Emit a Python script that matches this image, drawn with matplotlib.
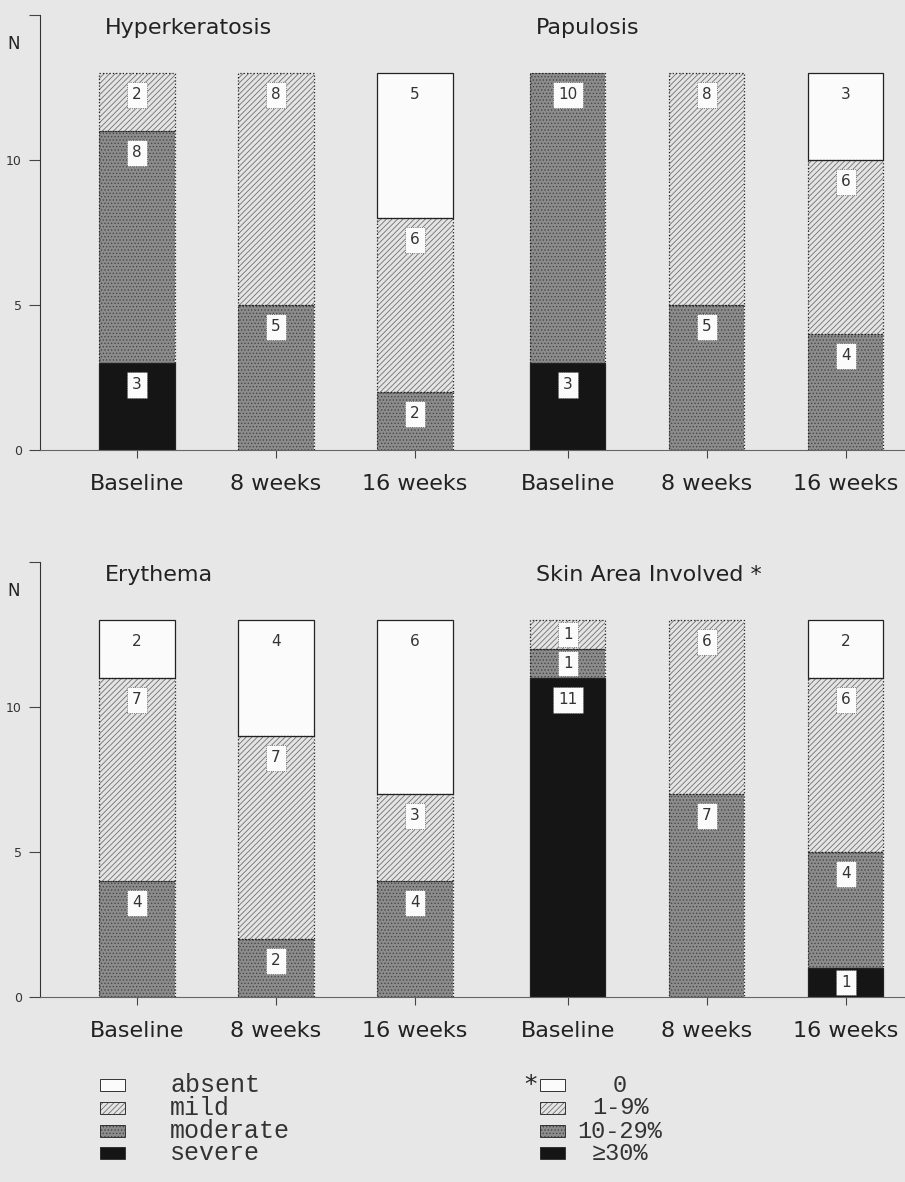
import matplotlib.pyplot as plt
from matplotlib.patches import Rectangle

timepoints = ["Baseline", "8 weeks", "16 weeks"]
levels = ["severe", "moderate", "mild", "absent"]  # stacked bottom-up

# counts per time point, in the order of `levels`
hyperkeratosis = [[3, 8, 2, 0], [0, 5, 8, 0], [0, 2, 6, 5]]
papulosis = [[3, 10, 0, 0], [0, 5, 8, 0], [0, 4, 6, 3]]
erythema = [[0, 4, 7, 2], [0, 2, 7, 4], [0, 4, 3, 6]]
skin_area = [[11, 1, 1, 0], [0, 7, 6, 0], [1, 4, 6, 2]]

legend_levels = ["absent", "mild", "moderate", "severe"]
area_labels = ["0", "1-9%", "10-29%", "≥30%"]

styles = {
    "severe": dict(fc="#151515", hatch=None, hc="#151515"),
    "moderate": dict(fc="#8c8c8c", hatch=".....", hc="#474747"),
    "mild": dict(fc="#e4e4e4", hatch="//////", hc="#707070"),
    "absent": dict(fc="#fbfbfb", hatch=None, hc="#fbfbfb"),
}

BG = "#e7e7e7"
SANS = "DejaVu Sans"
plt.rcParams["hatch.linewidth"] = 0.6

fig = plt.figure(figsize=(9.05, 11.82), dpi=100, facecolor=BG)


def draw_bar(ax, x, counts, width=0.54):
    bottom = 0
    for level, v in zip(levels, counts):
        if v == 0:
            continue
        st = styles[level]
        ax.bar(x, v, bottom=bottom, width=width, color=st["fc"], hatch=st["hatch"],
               edgecolor=st["hc"], linewidth=0, zorder=2)
        ax.bar(x, v, bottom=bottom, width=width, fill=False, edgecolor="#222222",
               linewidth=0.9, linestyle="-" if level in ("absent", "severe") else ":",
               zorder=3)
        off = min(0.75, v / 2)
        ax.text(x, bottom + v - off, str(v), ha="center", va="center", fontsize=11,
                family=SANS, color="#333333", zorder=4,
                bbox=dict(boxstyle="square,pad=0.35", fc="#fbfbfb",
                          ec="none" if level == "absent" else "#555555",
                          lw=0.6, ls=":"))
        bottom += v


def draw_row(bottom_frac, panels, titles):
    ax = fig.add_axes([40 / 905, bottom_frac, 865 / 905, 435 / 1182])
    ax.set_facecolor(BG)
    groups = [[0, 1, 2], [3.1, 4.1, 5.1]]
    xs, labels = [], []
    for pos, data, title in zip(groups, panels, titles):
        for x, counts in zip(pos, data):
            draw_bar(ax, x, counts)
        ax.text(pos[0] - 0.23, 14.55, title, ha="left", va="center",
                fontsize=16, family=SANS, color="#222222")
        xs += pos
        labels += timepoints
    ax.set_xlim(-0.698, 5.525)
    ax.set_ylim(0, 15)
    ax.set_xticks(xs)
    ax.set_xticklabels(labels, fontsize=16, family=SANS, color="#222222")
    ax.set_yticks([0, 5, 10, 15])
    ax.set_yticklabels(["0", "5", "10", ""], fontsize=9, color="#333333")
    ax.tick_params(axis="x", direction="out", length=6, pad=11, color="#444444")
    ax.tick_params(axis="y", direction="out", length=8, pad=5, color="#444444")
    for s in ("top", "right"):
        ax.spines[s].set_visible(False)
    ax.spines["left"].set_color("#333333")
    ax.spines["bottom"].set_color("#666666")
    ax.text(-0.023, 14, "N", transform=ax.get_yaxis_transform(), ha="right",
            va="center", fontsize=12, family=SANS, color="#222222")
    return ax


draw_row(1 - 450 / 1182, [hyperkeratosis, papulosis], ["Hyperkeratosis", "Papulosis"])
draw_row(1 - 997 / 1182, [erythema, skin_area], ["Erythema", "Skin Area Involved *"])

# legend
lax = fig.add_axes([0, 0, 1, 122 / 1182])
lax.set_xlim(0, 905)
lax.set_ylim(1182, 1060)
lax.axis("off")
row_y = [1085, 1108, 1131, 1153]
mono = ["Liberation Mono", "DejaVu Sans Mono"]
for y, level, lab, alab in zip(row_y, legend_levels, legend_levels, area_labels):
    st = styles[level]
    for x0 in (100, 540):
        lax.add_patch(Rectangle((x0, y - 6), 25, 12, fc=st["fc"], hatch=st["hatch"],
                                ec=st["hc"], lw=0))
        lax.add_patch(Rectangle((x0, y - 6), 25, 12, fill=False, ec="#333333", lw=0.7))
    lax.text(170, y, lab, ha="left", va="center", fontsize=18, family=mono,
             color="#333333")
    lax.text(620, y, alab, ha="center", va="center", fontsize=17, family=mono,
             color="#333333")
lax.text(530, 1085, "*", ha="center", va="center", fontsize=18, family=SANS,
         color="#222222")

fig.savefig("out.png", dpi=100, facecolor=BG)
